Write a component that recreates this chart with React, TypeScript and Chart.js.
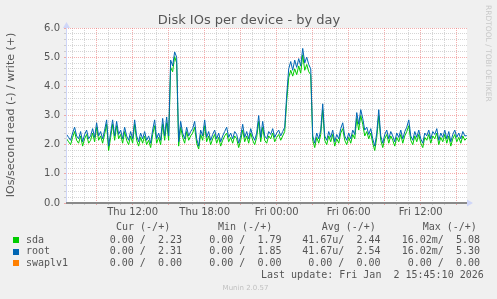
import React, { useEffect, useRef } from 'react';
import { Chart, registerables } from 'chart.js';

Chart.register(...registerables);

// Time axis: hours since Thu 00:00; samples every 10 minutes
const startHour = 6.5;
const stepHour = 1 / 6;

// Write IOs/second per device (read values are ~0)
const rootWrite = [
  2.35, 2.25, 2.15, 2.4, 2.6, 2.3, 2.2, 2.45, 2.1, 2.35,
  2.5, 2.2, 2.3, 2.55, 2.25, 2.75, 2.3, 2.45, 2.2, 2.5,
  2.85, 1.95, 2.4, 2.85, 2.3, 2.8, 2.35, 2.5, 2.2, 2.6,
  2.3, 2.15, 2.45, 2.2, 2.85, 2.3, 2.1, 2.4, 2.2, 2.45,
  2.15, 2.3, 2.05, 2.5, 2.85, 2.2, 2.4, 2.15, 2.9, 2.3,
  2.95, 2.3, 4.9, 4.7, 5.18, 5.0, 2.1, 2.8, 2.4, 2.2,
  2.6, 2.3, 2.45, 2.55, 2.8, 2.2, 1.95, 2.5, 2.3, 2.85,
  2.25, 2.45, 2.15, 2.35, 2.5, 2.2, 2.4, 2.1, 2.3, 2.45,
  2.6, 2.25, 2.4, 2.2, 2.45, 2.35, 2.05, 2.3, 2.7, 2.25,
  2.45, 2.2, 2.55, 2.3, 2.15, 2.4, 3.0, 2.25, 2.8, 2.3,
  2.2, 2.45, 2.35, 2.55, 2.25, 2.4, 2.5, 2.3, 2.45, 2.6,
  3.7, 4.6, 4.85, 4.55, 4.9, 4.65, 4.95, 4.7, 5.3, 4.8,
  5.0, 4.75, 4.6, 2.3, 2.05, 2.4, 2.2, 2.5, 3.4, 2.3,
  2.15, 2.45, 2.25, 2.5, 2.1, 2.35, 2.2, 2.55, 2.75, 2.3,
  2.15, 2.4, 2.2, 2.5, 2.35, 3.1, 2.7, 3.2, 2.9, 2.5,
  2.6, 2.35, 2.55, 2.2, 1.95, 2.4, 3.2, 2.3, 2.05, 2.35,
  2.5, 2.2, 2.45, 2.3, 2.1, 2.4, 2.25, 2.5, 2.2, 2.45,
  2.6, 2.85, 2.3, 2.15, 2.45, 2.25, 2.5, 2.2, 2.05, 2.4,
  2.3, 2.5, 2.2, 2.45, 2.35, 2.55, 2.15, 2.4, 2.25, 2.5,
  2.2, 2.45, 2.1, 2.35, 2.5, 2.25, 2.4, 2.2, 2.45, 2.3,
  2.31,
];
const sdaWrite = [
  2.2, 2.1, 2.0, 2.25, 2.45, 2.15, 2.05, 2.3, 1.95, 2.2,
  2.35, 2.05, 2.15, 2.4, 2.1, 2.6, 2.15, 2.3, 2.05, 2.35,
  2.7, 1.8, 2.25, 2.7, 2.15, 2.65, 2.2, 2.35, 2.05, 2.45,
  2.15, 2.0, 2.3, 2.05, 2.7, 2.15, 1.95, 2.25, 2.05, 2.3,
  2.0, 2.15, 1.9, 2.35, 2.65, 2.05, 2.25, 2.0, 2.7, 2.15,
  2.75, 2.15, 4.65, 4.5, 5.02, 4.8, 1.95, 2.6, 2.25, 2.05,
  2.45, 2.15, 2.3, 2.4, 2.6, 2.05, 1.85, 2.35, 2.15, 2.65,
  2.1, 2.3, 2.0, 2.2, 2.35, 2.05, 2.25, 1.95, 2.15, 2.3,
  2.4, 2.1, 2.25, 2.05, 2.3, 2.2, 1.9, 2.15, 2.5, 2.1,
  2.3, 2.05, 2.4, 2.15, 2.0, 2.25, 2.8, 2.1, 2.6, 2.15,
  2.05, 2.3, 2.2, 2.4, 2.1, 2.25, 2.35, 2.15, 2.3, 2.45,
  3.5, 4.3, 4.55, 4.35, 4.6, 4.4, 4.7, 4.45, 5.08, 4.55,
  4.75, 4.5, 4.4, 2.15, 1.9, 2.25, 2.05, 2.35, 3.2, 2.15,
  2.0, 2.3, 2.1, 2.35, 1.95, 2.2, 2.05, 2.4, 2.55, 2.15,
  2.0, 2.25, 2.05, 2.35, 2.2, 2.9, 2.5, 3.0, 2.7, 2.3,
  2.45, 2.2, 2.4, 2.05, 1.8, 2.25, 3.0, 2.15, 1.9, 2.2,
  2.35, 2.05, 2.3, 2.15, 1.95, 2.25, 2.1, 2.35, 2.05, 2.3,
  2.45, 2.65, 2.15, 2.0, 2.3, 2.1, 2.35, 2.05, 1.9, 2.25,
  2.15, 2.35, 2.05, 2.3, 2.2, 2.4, 2.0, 2.25, 2.1, 2.35,
  2.05, 2.3, 1.95, 2.2, 2.35, 2.1, 2.25, 2.05, 2.3, 2.15,
  2.23,
];
const swapHours = [6.5, 39.83];
const swapWrite = [0, 0];

const xMin = 6.45;
const xMax = 39.85;
const xLabelHours = [12, 18, 24, 30, 36];
const xLabels = ['Thu 12:00', 'Thu 18:00', 'Fri 00:00', 'Fri 06:00', 'Fri 12:00'];

const legendNames = ['sda', 'root', 'swaplv1'];
const legendColors = ['#00CC00', '#0066B3', '#FF8000'];
const legendHeaders = ['Cur (-/+)', 'Min (-/+)', 'Avg (-/+)', 'Max (-/+)'];
const curValues = ['0.00 /  2.23', '0.00 /  2.31', '0.00 /  0.00'];
const minValues = ['0.00 /  1.79', '0.00 /  1.85', '0.00 /  0.00'];
const avgValues = ['41.67u/  2.44', '41.67u/  2.54', '0.00 /  0.00'];
const maxValues = ['16.02m/  5.08', '16.02m/  5.30', '0.00 /  0.00'];

const TITLE = 'Disk IOs per device - by day';
const Y_TITLE = 'IOs/second read (-) / write (+)';
const SIDE_TEXT = 'RRDTOOL / TOBI OETIKER';
const LAST_UPDATE = 'Last update: Fri Jan  2 15:45:10 2026';
const FOOTER = 'Munin 2.0.57';

const MAJOR = 'rgba(235, 110, 110, 0.55)';
const MINOR = 'rgba(150, 150, 150, 0.4)';
const AXIS = '#CFD6F8';
const FONT_COLOR = '#555555';

export default function App() {
  const ref = useRef<HTMLCanvasElement>(null);

  useEffect(() => {
    const canvas = ref.current;
    if (!canvas) return;

    const hours = rootWrite.map((_, i) => startHour + i * stepHour);
    const hourTicks: number[] = [];
    for (let h = Math.ceil(xMin); h <= Math.floor(xMax); h++) hourTicks.push(h);
    const yTicks: number[] = [];
    for (let k = 0; k <= 30; k++) yTicks.push(Math.round(k * 2) / 10);

    const munin = {
      id: 'munin',
      beforeDraw(chart: any) {
        const { ctx, chartArea: a } = chart;
        ctx.save();
        ctx.fillStyle = '#F0F0F0';
        ctx.fillRect(0, 0, chart.width, chart.height);
        ctx.fillStyle = '#FFFFFF';
        ctx.fillRect(a.left, a.top, a.right - a.left, a.bottom - a.top);
        ctx.restore();
      },
      afterDatasetsDraw(chart: any) {
        const { ctx, chartArea: a } = chart;
        const yz = chart.scales.y.getPixelForValue(0);
        ctx.save();
        // left axis
        ctx.strokeStyle = AXIS;
        ctx.lineWidth = 1;
        ctx.beginPath();
        ctx.moveTo(a.left + 0.5, yz);
        ctx.lineTo(a.left + 0.5, a.top - 3);
        ctx.stroke();
        // zero line
        ctx.strokeStyle = '#8a8a8a';
        ctx.lineWidth = 2;
        ctx.beginPath();
        ctx.moveTo(a.left, yz);
        ctx.lineTo(a.right, yz);
        ctx.stroke();
        // arrows
        ctx.fillStyle = AXIS;
        ctx.beginPath();
        ctx.moveTo(a.right, yz - 3.5);
        ctx.lineTo(a.right + 6, yz);
        ctx.lineTo(a.right, yz + 3.5);
        ctx.closePath();
        ctx.fill();
        ctx.beginPath();
        ctx.moveTo(a.left + 0.5 - 3.5, a.top);
        ctx.lineTo(a.left + 0.5, a.top - 6);
        ctx.lineTo(a.left + 0.5 + 3.5, a.top);
        ctx.closePath();
        ctx.fill();
        ctx.restore();
      },
      afterDraw(chart: any) {
        const { ctx } = chart;
        ctx.save();
        // title
        ctx.fillStyle = FONT_COLOR;
        ctx.font = '13px "DejaVu Sans"';
        ctx.textAlign = 'center';
        ctx.textBaseline = 'alphabetic';
        ctx.fillText(TITLE, 249, 24);
        // y title
        ctx.save();
        ctx.translate(11, 115);
        ctx.rotate(-Math.PI / 2);
        ctx.font = '11px "DejaVu Sans"';
        ctx.textBaseline = 'middle';
        ctx.fillText(Y_TITLE, 0, 0);
        ctx.restore();
        // side text
        ctx.save();
        ctx.translate(488, 5);
        ctx.rotate(Math.PI / 2);
        ctx.font = '7.5px "DejaVu Sans"';
        ctx.textAlign = 'left';
        ctx.textBaseline = 'middle';
        ctx.fillStyle = '#C8C8C8';
        ctx.fillText(SIDE_TEXT, 0, 0);
        ctx.restore();
        // legend
        ctx.font = '10px "DejaVu Sans Mono"';
        ctx.textBaseline = 'middle';
        ctx.fillStyle = FONT_COLOR;
        ctx.textAlign = 'left';
        const headerX = [116, 218, 321.7, 422.7];
        legendHeaders.forEach((h, i) => ctx.fillText(h, headerX[i], 227));
        const rowY = [240, 251.7, 263];
        const colEnd = [182, 281.5, 380.5, 480];
        const cols = [curValues, minValues, avgValues, maxValues];
        legendNames.forEach((name, r) => {
          ctx.fillStyle = legendColors[r];
          ctx.fillRect(13, Math.round(rowY[r]) - 3, 6, 6);
          ctx.fillStyle = FONT_COLOR;
          ctx.textAlign = 'left';
          ctx.fillText(name, 26, rowY[r]);
          ctx.textAlign = 'right';
          cols.forEach((col, c) => ctx.fillText(col[r], colEnd[c], rowY[r]));
        });
        ctx.textAlign = 'left';
        ctx.fillText(LAST_UPDATE, 261, 275);
        // footer
        ctx.font = '7px "DejaVu Sans"';
        ctx.fillStyle = '#C0C0C0';
        ctx.textAlign = 'center';
        ctx.fillText(FOOTER, 245.5, 288.5);
        ctx.restore();
      },
    };

    const isMajorX = (v: number) => Math.abs(v % 3) < 1e-6;
    const isMajorY = (v: number) => Math.abs(v - Math.round(v)) < 1e-6;

    const chart = new Chart(canvas, {
      type: 'line',
      data: {
        datasets: [
          {
            label: 'swaplv1',
            data: swapHours.map((h, i) => ({ x: h, y: swapWrite[i] })),
            borderColor: legendColors[2],
            borderWidth: 1,
            pointRadius: 0,
            order: 3,
          },
          {
            label: 'sda',
            data: hours.map((h, i) => ({ x: h, y: sdaWrite[i] })),
            borderColor: legendColors[0],
            borderWidth: 1,
            pointRadius: 0,
            order: 2,
          },
          {
            label: 'root',
            data: hours.map((h, i) => ({ x: h, y: rootWrite[i] })),
            borderColor: legendColors[1],
            borderWidth: 1,
            pointRadius: 0,
            order: 1,
          },
        ],
      },
      options: {
        animation: false,
        responsive: false,
        devicePixelRatio: 1,
        layout: { padding: { left: 0, top: 28, right: 30, bottom: 76 } },
        plugins: { legend: { display: false }, tooltip: { enabled: false }, title: { display: false } },
        elements: { line: { tension: 0 } },
        scales: {
          x: {
            type: 'linear',
            min: xMin,
            max: xMax,
            afterBuildTicks: (s: any) => {
              s.ticks = hourTicks.map((v) => ({ value: v }));
            },
            afterFit: (s: any) => {
              s.height = 20;
            },
            ticks: {
              autoSkip: false,
              maxRotation: 0,
              minRotation: 0,
              padding: 1,
              color: FONT_COLOR,
              font: { family: 'DejaVu Sans', size: 10 },
              callback: (v: any) => {
                const idx = xLabelHours.indexOf(Number(v));
                return idx >= 0 ? xLabels[idx] : '';
              },
            },
            grid: {
              color: (c: any) => (c.tick && isMajorX(c.tick.value) ? MAJOR : MINOR),
              tickColor: (c: any) => (c.tick && isMajorX(c.tick.value) ? MAJOR : MINOR),
              lineWidth: 1,
              drawTicks: true,
              tickLength: 2,
            },
            border: { display: false, dash: [1, 1] },
          },
          y: {
            type: 'linear',
            min: 0,
            max: 6,
            afterBuildTicks: (s: any) => {
              s.ticks = yTicks.map((v) => ({ value: v }));
            },
            afterFit: (s: any) => {
              s.width = 66;
            },
            ticks: {
              autoSkip: false,
              padding: 4,
              color: FONT_COLOR,
              font: { family: 'DejaVu Sans', size: 10 },
              callback: (v: any) => (isMajorY(Number(v)) ? Number(v).toFixed(1) : ''),
            },
            grid: {
              color: (c: any) => (c.tick && isMajorY(c.tick.value) ? MAJOR : MINOR),
              tickColor: (c: any) => (c.tick && isMajorY(c.tick.value) ? MAJOR : MINOR),
              lineWidth: 1,
              drawTicks: true,
              tickLength: 2,
            },
            border: { display: false, dash: [1, 1] },
          },
        },
      },
      plugins: [munin],
    } as any);

    return () => chart.destroy();
  }, []);

  return (
    <div style={{ position: 'absolute', left: 0, top: 0, width: 497, height: 299, background: '#F0F0F0' }}>
      <canvas ref={ref} width={497} height={299} style={{ display: 'block', width: 497, height: 299 }} />
    </div>
  );
}
